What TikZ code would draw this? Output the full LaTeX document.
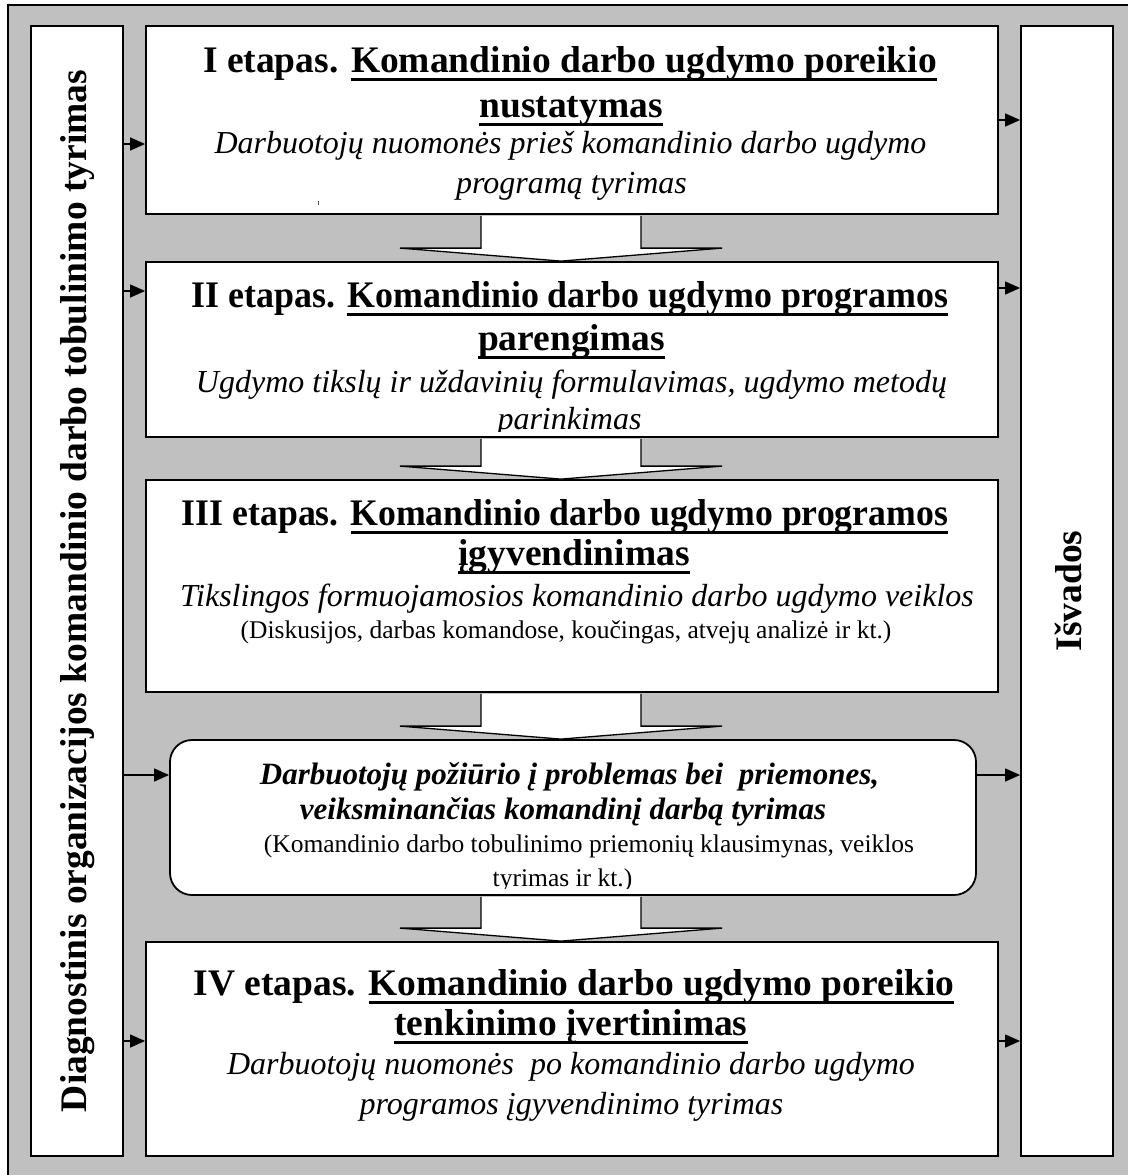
\documentclass[tikz,border=0pt]{standalone}
\usepackage{fontspec}
\setmainfont{Liberation Serif}
\usetikzlibrary{arrows.meta,calc}
\definecolor{panel}{HTML}{C0C0C0}

% underlined phrase with a heavy rule just under the baseline
\newcommand\ulpart[1]{\setbox0\hbox{#1}\rlap{\rule[-8.5pt]{\wd0}{2.6pt}}\box0}
% set a line to a given width, keeping its height
\newcommand\fitw[2]{\resizebox{#1pt}{\height}{#2}}
\newcommand\ttlfont{\fontsize{37.5}{45}\bfseries\selectfont}
\newcommand\itlfont{\fontsize{32}{38}\itshape\selectfont}
\newcommand\bitfont{\fontsize{31}{37}\bfseries\itshape\selectfont}
\newcommand\prnfont{\fontsize{25.5}{30}\selectfont}

\tikzset{
  stagebox/.style={draw, line width=1.8pt, fill=white, rectangle, inner sep=0pt},
  line/.style={anchor=base, inner sep=0pt, outer sep=0pt},
  sidearrow/.style={line width=1.3pt, -{Triangle[length=15pt,width=13pt]}},
  blockarrow/.style={line width=1.3pt, line join=miter},
}

% wide hollow arrow between two stacked boxes
\newcommand\blockarrow[2]{%
  \path (ax |- #1.south) coordinate (#1-out) (ax |- #2.north) coordinate (#2-in);
  \fill[white] ($(#1-out)+(-80,1)$) -- ($(#2-in)+(-80,-13)$) -- ($(#2-in)+(-161,-13)$) -- (#2-in)
     -- ($(#2-in)+(161,-13)$) -- ($(#2-in)+(80,-13)$) -- ($(#1-out)+(80,1)$) -- cycle;
  \draw[blockarrow] ($(#1-out)+(-80,1)$) -- ($(#2-in)+(-80,-13)$) -- ($(#2-in)+(-161,-13)$) -- (#2-in)
     -- ($(#2-in)+(161,-13)$) -- ($(#2-in)+(80,-13)$) -- ($(#1-out)+(80,1)$);
}

\begin{document}
\begin{tikzpicture}[x=1pt, y=-1pt]
\useasboundingbox (0,0) rectangle (1128,1175);

% grey panel behind everything
\fill[panel] (8,5) rectangle (1128,1175);
\draw[line width=1.5pt] (8,1175) -- (8,5) -- (1128,5);

% side columns
\node[stagebox, minimum width=92pt, minimum height=1130pt] (left) at (77,591) {};
\node[stagebox, minimum width=92pt, minimum height=1130pt] (right) at (1067,591) {};
\node[rotate=90, inner sep=0pt] (lefttxt) at (78,591)
  {\ttlfont\fitw{1042}{Diagnostinis organizacijos komandinio darbo tobulinimo tyrimas}};
\node[rotate=90, inner sep=0pt] (righttxt) at (1068,591) {\ttlfont Išvados};

% stage boxes
\node[stagebox, minimum width=852pt, minimum height=188pt] (b1) at (572,120) {};
\node[stagebox, minimum width=852pt, minimum height=175pt] (b2) at (572,349.5) {};
\node[stagebox, minimum width=852pt, minimum height=212pt] (b3) at (572,586) {};
\node[stagebox, minimum width=806pt, minimum height=155pt, rounded corners=22pt] (r) at (573,817.5) {};
\node[stagebox, minimum width=852pt, minimum height=214pt] (b4) at (572,1049) {};

% hollow arrows down the middle
\coordinate (ax) at (561,0);
\blockarrow{b1}{b2}
\blockarrow{b2}{b3}
\blockarrow{b3}{r}
\blockarrow{r}{b4}

% stage I
\node[line] (t1a) at (570,72) {\ttlfont I etapas. \ulpart{Komandinio darbo ugdymo poreikio}};
\node[line] (t1b) at (571,117) {\ttlfont \ulpart{nustatymas}};
\node[line] (s1a) at (570.5,153) {\itlfont Darbuotojų nuomonės prieš komandinio darbo ugdymo};
\node[line] (s1b) at (571.5,193) {\itlfont programą tyrimas};
\fill[black!70] (317.5,201) rectangle (319,204.5);

% stage II
\node[line] (t2a) at (570,307) {\ttlfont\fitw{756}{II etapas. \ulpart{Komandinio darbo ugdymo programos}}};
\node[line] (t2b) at (571.5,350) {\ttlfont \ulpart{parengimas}};
\node[line] (s2a) at (571.5,392) {\itlfont Ugdymo tikslų ir uždavinių formulavimas, ugdymo metodų};
\begin{scope}
  \clip (146,262) rectangle (998,431.5);
  \node[line] (s2b) at (569.5,429) {\itlfont parinkimas};
\end{scope}

% stage III
\node[line] (t3a) at (565,525) {\ttlfont\fitw{766}{III etapas. \ulpart{Komandinio darbo ugdymo programos}}};
\begin{scope}
  \clip (146,535) rectangle (998,573.5);
  \node[line] (t3b) at (574,565) {\ttlfont \ulpart{įgyvendinimas}};
\end{scope}
\node[line] (s3a) at (577,606) {\itlfont Tikslingos formuojamosios komandinio darbo ugdymo veiklos};
\node[line] (s3b) at (566,638) {\prnfont (Diskusijos, darbas komandose, koučingas, atvejų analizė ir kt.)};

% attitude survey between stages III and IV
\node[line] (ra) at (569.5,784) {\bitfont Darbuotojų požiūrio į problemas bei\ \ priemones,};
\node[line] (rb) at (563,819) {\bitfont veiksminančias komandinį darbą tyrimas};
\node[line] (rc) at (589,852) {\prnfont (Komandinio darbo tobulinimo priemonių klausimynas, veiklos};
\begin{scope}
  \clip (170,740) rectangle (976,888.5);
  \node[line] (rd) at (562.5,886.5) {\prnfont tyrimas ir kt.)};
\end{scope}

% stage IV
\node[line] (t4a) at (574,995) {\ttlfont IV etapas. \ulpart{Komandinio darbo ugdymo poreikio}};
\node[line] (t4b) at (571,1035) {\ttlfont \ulpart{tenkinimo įvertinimas}};
\node[line] (s4a) at (571,1074) {\itlfont Darbuotojų nuomonės\ \ po komandinio darbo ugdymo};
\node[line] (s4b) at (571.5,1114) {\itlfont programos įgyvendinimo tyrimas};

% links from the diagnostic column and into the conclusions
\coordinate (l1) at (0,144);  \coordinate (r1) at (0,120);
\coordinate (l2) at (0,291);  \coordinate (r2) at (0,288);
\coordinate (l3) at (0,775);  \coordinate (r3) at (0,775);
\coordinate (l4) at (0,1041); \coordinate (r4) at (0,1041);
\draw[sidearrow] (left.east |- l1) -- (b1.west |- l1);
\draw[sidearrow] (left.east |- l2) -- (b2.west |- l2);
\draw[sidearrow] (left.east |- l3) -- (r.west |- l3);
\draw[sidearrow] (left.east |- l4) -- (b4.west |- l4);
\draw[sidearrow] (b1.east |- r1) -- (right.west |- r1);
\draw[sidearrow] (b2.east |- r2) -- (right.west |- r2);
\draw[sidearrow] (r.east |- r3) -- (right.west |- r3);
\draw[sidearrow] (b4.east |- r4) -- (right.west |- r4);
\end{tikzpicture}
\end{document}
